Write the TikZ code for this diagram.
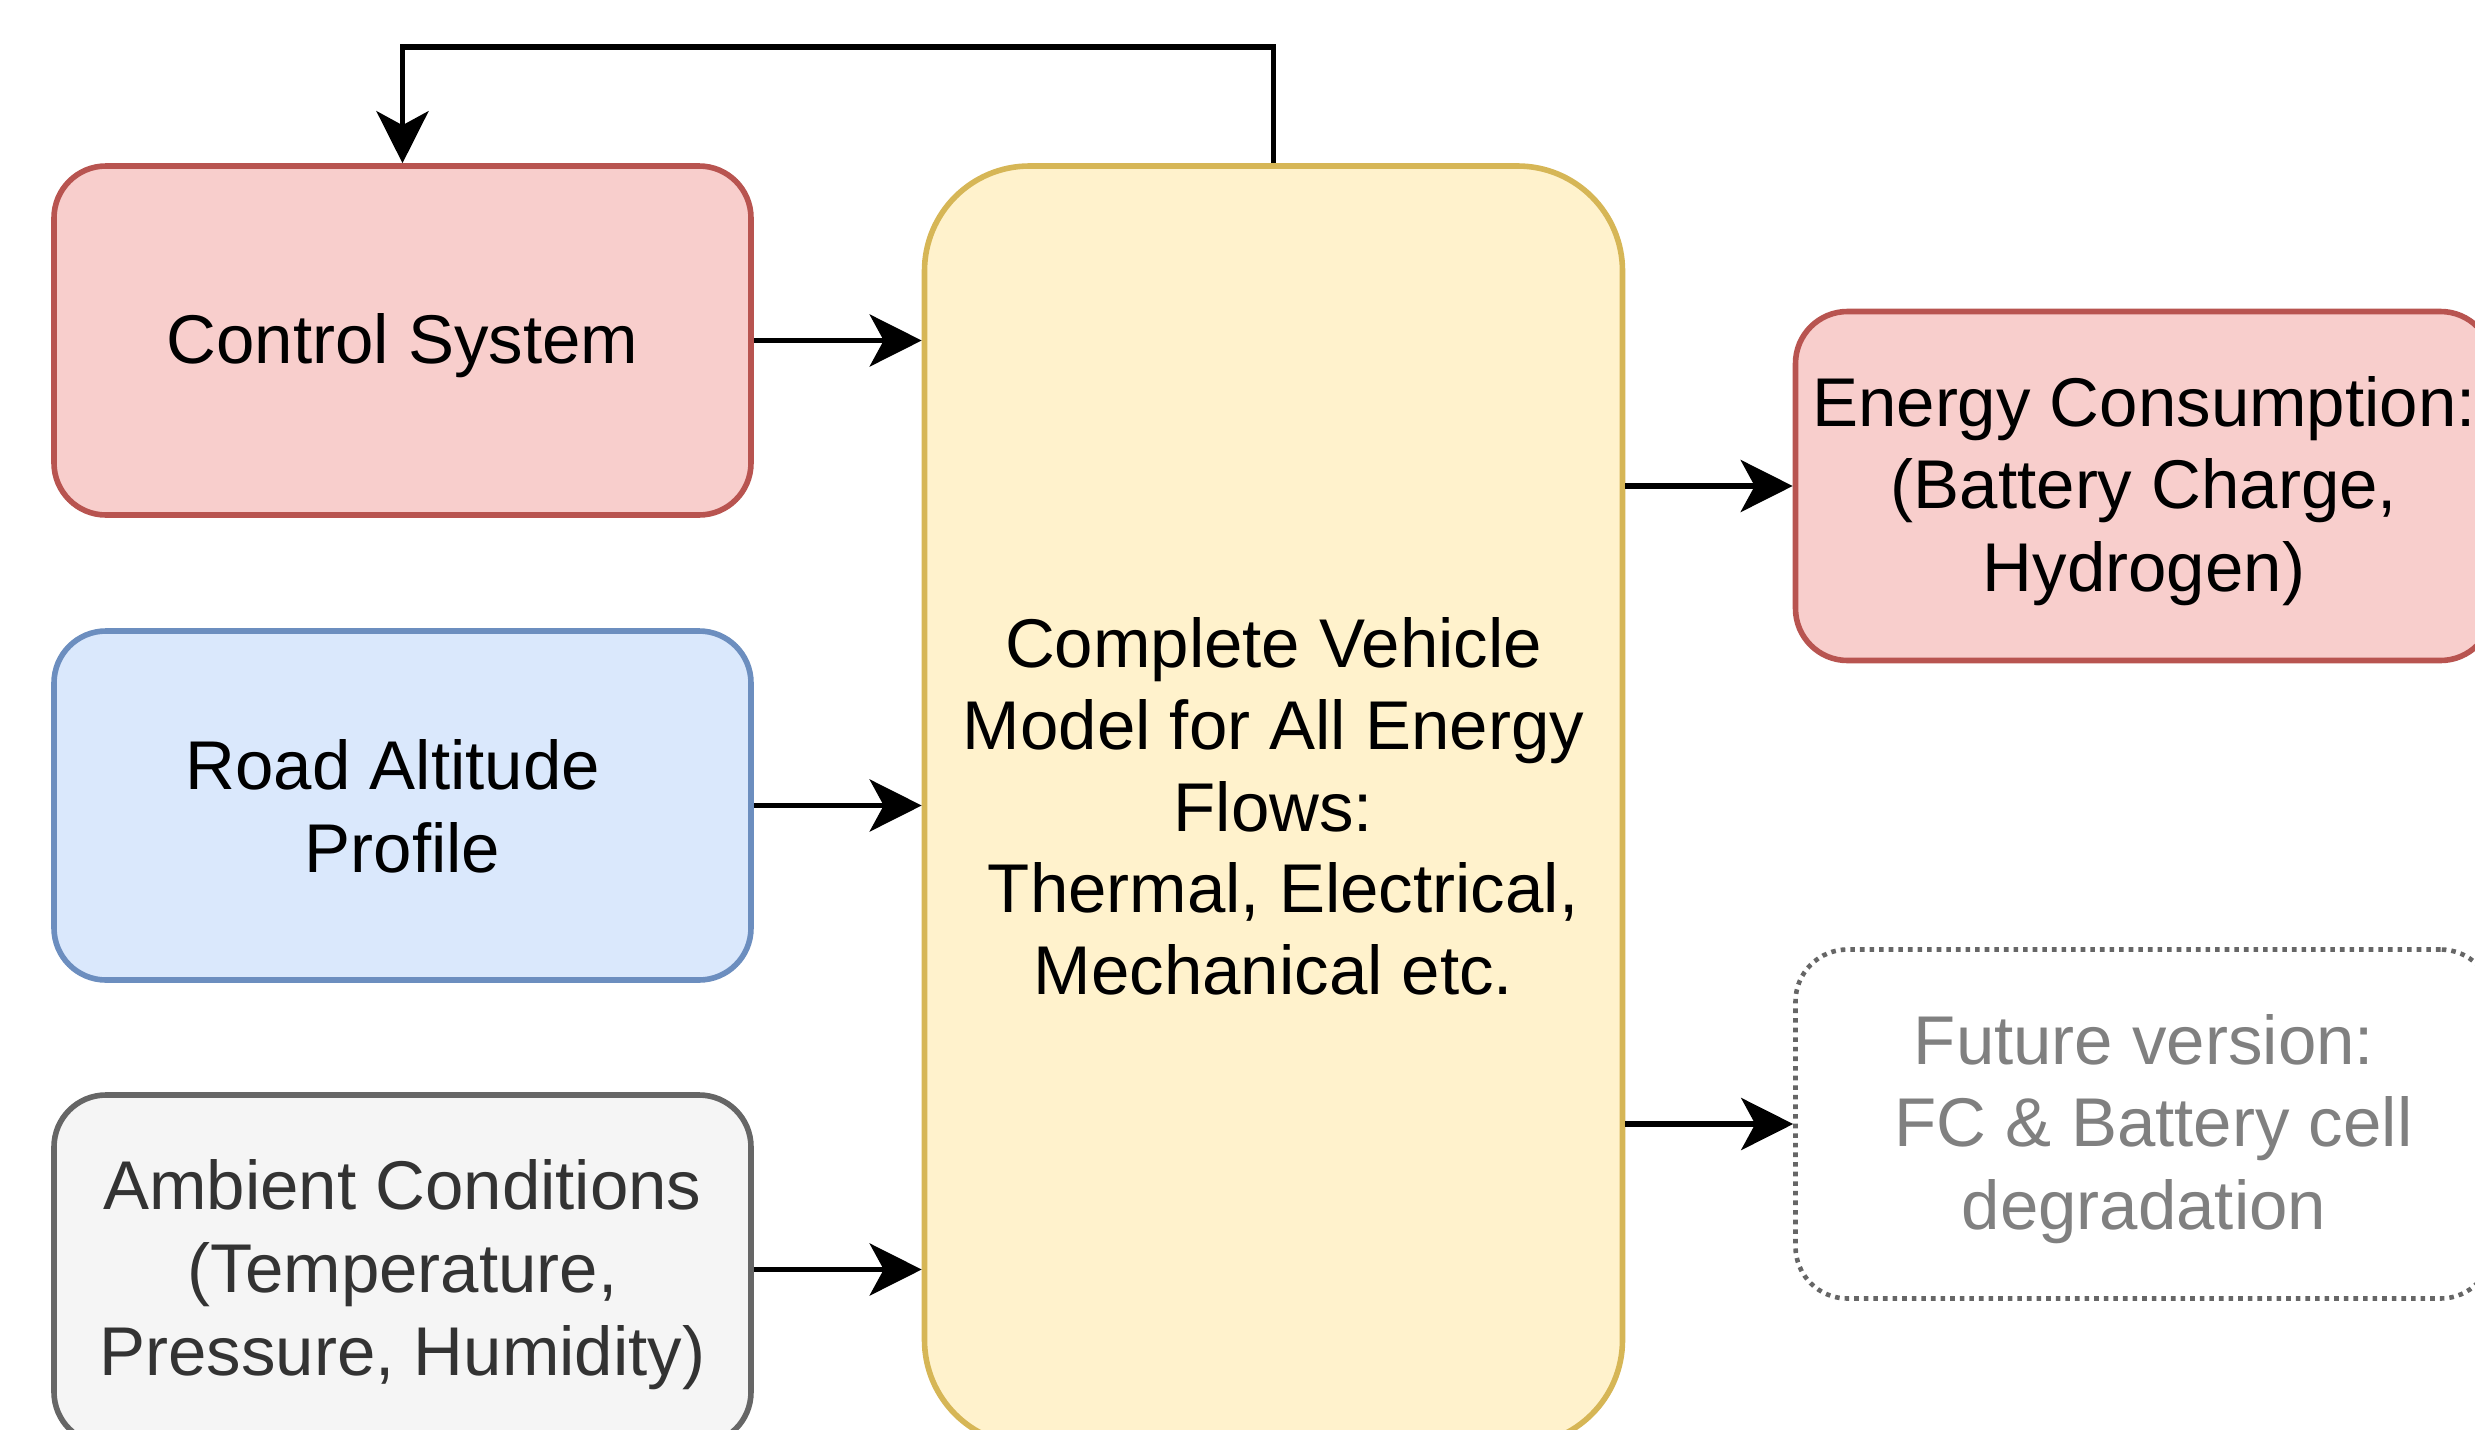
\documentclass[tikz,border=0pt]{standalone}
\usepackage{fontspec}
\setmainfont{Liberation Sans}
\usetikzlibrary{arrows.meta}
\definecolor{redfill}{HTML}{F8CECC}
\definecolor{redline}{HTML}{B85450}
\definecolor{bluefill}{HTML}{DAE8FC}
\definecolor{blueline}{HTML}{6C8EBF}
\definecolor{grayfill}{HTML}{F5F5F5}
\definecolor{grayline}{HTML}{666666}
\definecolor{graytext}{HTML}{333333}
\definecolor{yelfill}{HTML}{FFF2CC}
\definecolor{yelline}{HTML}{D6B656}
\definecolor{futtext}{HTML}{808080}
\begin{document}
\begin{tikzpicture}[x=0.5pt,y=-0.5pt,
  box/.style={draw, line width=2.8pt, minimum width=348.5pt, minimum height=174.5pt,
    inner sep=0pt, rounded corners=26pt},
  txt/.style={align=center, inner sep=0pt, yshift=-2.5pt, font=\fontsize{34.5}{41.4}\selectfont},
  arr/.style={line width=2.8pt, -{Stealth[length=26pt,width=26pt,inset=7pt]}}]
\useasboundingbox (0,0) rectangle (2475,1430);
\clip (0,0) rectangle (2475,1430);
\node[box, fill=redfill, draw=redline, label={[txt]center:Control System}] (control) at (402.5,340.5) {};
\node[box, fill=bluefill, draw=blueline, label={[txt, yshift=2pt]center:Road Altitude\hspace*{0.278em}\\Profile}] (road) at (402.5,805.5) {};
\node[box, fill=grayfill, draw=grayline, label={[txt, text=graytext]center:Ambient Conditions\\(Temperature,\\Pressure, Humidity)}] (ambient) at (402.5,1269.5) {};
\node[box, fill=yelfill, draw=yelline, minimum width=349pt, minimum height=639.5pt, rounded corners=52.5pt,
  label={[txt, yshift=2pt, font=\fontsize{34.5}{40.8}\selectfont]center:Complete Vehicle\\Model for All Energy\\Flows:\\\hspace*{0.278em}Thermal, Electrical,\\Mechanical etc.}] (central) at (1273.5,805.5) {};
\node[box, fill=redfill, draw=redline, label={[txt]center:Energy Consumption:\\(Battery Charge,\\Hydrogen)}] (energy) at (2144,486) {};
\node[box, draw=grayline, line width=2.3pt, dash pattern=on 2.3pt off 2.5pt,
  label={[txt, text=futtext]center:Future version:\\\hspace*{0.278em}FC \& Battery cell\\degradation}] (future) at (2144,1124) {};
\draw[arr] (central.north) -- ++(0,-116) -| (control.north);
\draw[arr] (control.east) -- (control.east -| central.west);
\draw[arr] (road.east) -- (road.east -| central.west);
\draw[arr] (ambient.east) -- (ambient.east -| central.west);
\draw[arr] (central.east |- energy.west) -- (energy.west);
\draw[arr] (central.east |- future.west) -- (future.west);
\end{tikzpicture}
\end{document}
